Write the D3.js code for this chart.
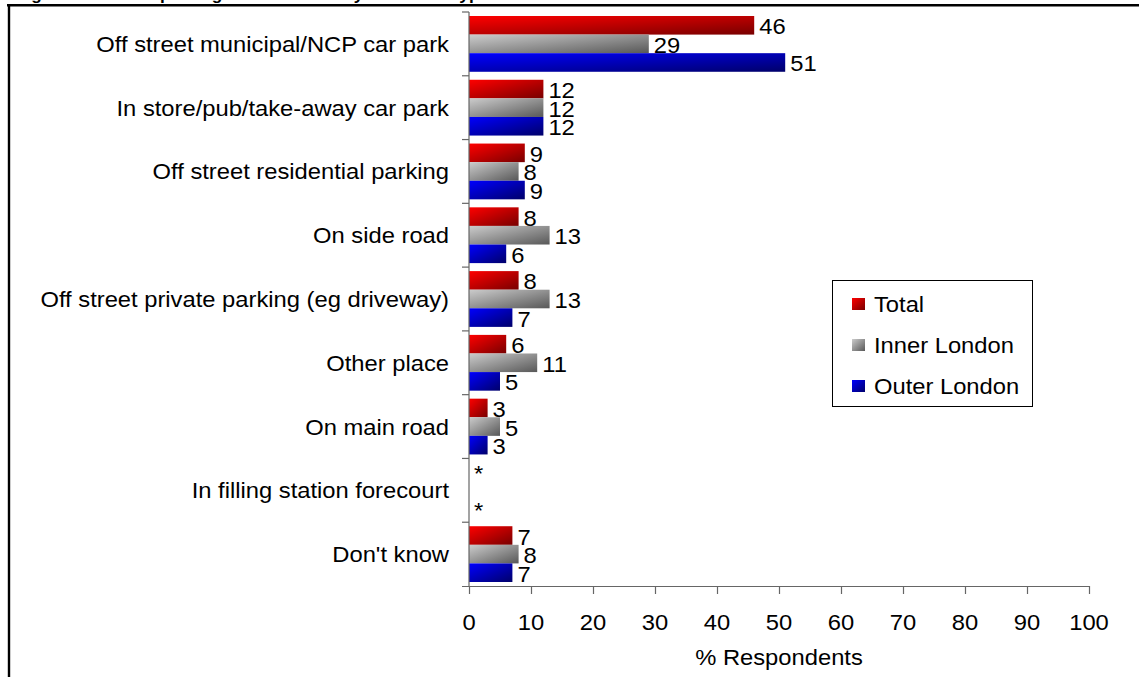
<!DOCTYPE html>
<html>
<head>
<meta charset="utf-8">
<script src="https://cdn.jsdelivr.net/npm/d3@7"></script>
<style>
  html, body { margin: 0; padding: 0; background: #fff; }
  svg { display: block; font-family: Arial, "Liberation Sans", sans-serif; }
</style>
</head>
<body>
<svg id="chart" width="1139" height="677"></svg>
<script>
const titleText = "Figure 4.5: Usual parking location used by residence type";
const categories = [
  "Off street municipal/NCP car park",
  "In store/pub/take-away car park",
  "Off street residential parking",
  "On side road",
  "Off street private parking (eg driveway)",
  "Other place",
  "On main road",
  "In filling station forecourt",
  "Don't know"
];
const seriesNames = ["Total", "Inner London", "Outer London"];
const totalValues = [46, 12, 9, 8, 8, 6, 3, 0, 7];
const innerValues = [29, 12, 8, 13, 13, 11, 5, 0, 8];
const outerValues = [51, 12, 9, 6, 7, 5, 3, 0, 7];
const totalLabels = ["46", "12", "9", "8", "8", "6", "3", "*", "7"];
const innerLabels = ["29", "12", "8", "13", "13", "11", "5", "", "8"];
const outerLabels = ["51", "12", "9", "6", "7", "5", "3", "*", "7"];
const xTicks = [0, 10, 20, 30, 40, 50, 60, 70, 80, 90, 100];
const xTitle = "% Respondents";

const seriesValues = [totalValues, innerValues, outerValues];
const seriesLabels = [totalLabels, innerLabels, outerLabels];
const gradStops = [["#ff0000", "#780000"], ["#cccccc", "#585858"], ["#0000ff", "#00006a"]];

const svg = d3.select("#chart");
const FS = 22, SX = 1.08;

function txt(g, x, y, s, anchor, size, weight) {
  return g.append("text")
    .attr("transform", `translate(${x},${y}) scale(${SX},1)`)
    .attr("text-anchor", anchor || "start")
    .attr("font-size", size || FS)
    .attr("font-weight", weight || "normal")
    .attr("fill", "#000")
    .text(s);
}

// gradients
const defs = svg.append("defs");
gradStops.forEach((c, i) => {
  const lg = defs.append("linearGradient").attr("id", "g" + i)
    .attr("x1", 0).attr("y1", 0).attr("x2", 1).attr("y2", 1);
  lg.append("stop").attr("offset", "0%").attr("stop-color", c[0]);
  lg.append("stop").attr("offset", "100%").attr("stop-color", c[1]);
});

// title (mostly cut off at top) and frame
txt(svg, 16, -0.5, titleText, "start", 16, "bold");
svg.append("line").attr("x1", 7).attr("x2", 1139).attr("y1", 5.3).attr("y2", 5.3)
  .attr("stroke", "#000").attr("stroke-width", 2.6);
svg.append("line").attr("x1", 9).attr("x2", 9).attr("y1", 4).attr("y2", 677)
  .attr("stroke", "#000").attr("stroke-width", 2.4);

// scales
const x = d3.scaleLinear().domain([0, 100]).range([469, 1089]);
const y = d3.scaleBand().domain(categories).range([12, 586]).paddingInner(0).paddingOuter(0);
const step = y.bandwidth();
const ys = d3.scaleBand().domain(seriesNames).range([4, step - 4]).padding(0);

// bars
const gBars = svg.append("g");
seriesNames.forEach((s, si) => {
  categories.forEach((c, ci) => {
    const v = seriesValues[si][ci];
    const y0 = y(c) + ys(s);
    if (v > 0) {
      gBars.append("rect")
        .attr("x", x(0)).attr("y", y0)
        .attr("width", x(v) - x(0)).attr("height", ys.bandwidth())
        .attr("fill", `url(#g${si})`);
    }
    const lab = seriesLabels[si][ci];
    if (lab) {
      txt(gBars, x(v) + 5, y0 + ys.bandwidth() / 2 + 9, lab, "start");
    }
  });
});

// y axis
const yAxis = svg.append("g").attr("transform", `translate(${x(0)},0)`);
yAxis.append("line").attr("x1", 0).attr("x2", 0).attr("y1", 12).attr("y2", 586)
  .attr("stroke", "#666").attr("stroke-width", 1.2);
categories.forEach(c => {
  yAxis.append("line").attr("x1", -7).attr("x2", 0).attr("y1", y(c)).attr("y2", y(c))
    .attr("stroke", "#666").attr("stroke-width", 1.2);
  txt(svg, 449, y(c) + step / 2 + 8, c, "end");
});

// x axis
const xAxis = svg.append("g").attr("transform", "translate(0,586)")
  .call(d3.axisBottom(x).tickValues(xTicks).tickSize(8).tickSizeOuter(0).tickFormat(() => ""));
xAxis.select(".domain").attr("stroke", "#666").attr("stroke-width", 1.2)
  .attr("d", `M${x(0) - 7},0.5H${x(100)}`);
xAxis.selectAll(".tick line").attr("stroke", "#666").attr("stroke-width", 1.2);
xTicks.forEach(t => txt(svg, x(t), 630, String(t), "middle"));
txt(svg, x(50), 665, xTitle, "middle");

// legend
const lg = svg.append("g");
lg.append("rect").attr("x", 832.5).attr("y", 280.5).attr("width", 200).attr("height", 126)
  .attr("fill", "#fff").attr("stroke", "#000").attr("stroke-width", 1);
seriesNames.forEach((s, i) => {
  const cy = 304 + i * 41;
  lg.append("rect").attr("x", 852).attr("y", cy - 6).attr("width", 13).attr("height", 12)
    .attr("fill", `url(#g${i})`);
  txt(lg, 874, cy + 8, s, "start");
});
</script>
</body>
</html>
